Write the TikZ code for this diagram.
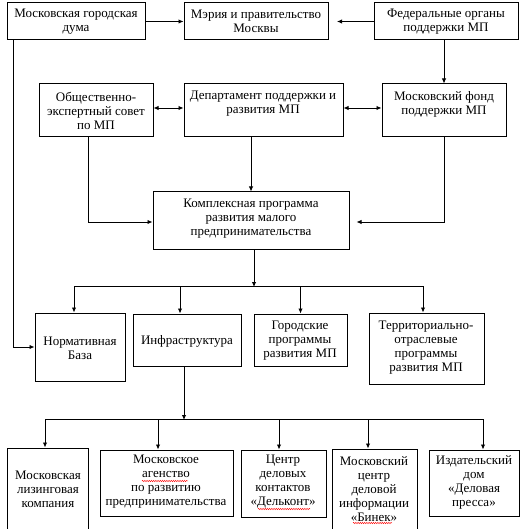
\documentclass[tikz,border=0pt]{standalone}
\usepackage{fontspec}
\setmainfont{Liberation Serif}
\usetikzlibrary{arrows.meta,decorations.pathmorphing}
\begin{document}
\begin{tikzpicture}[x=1pt,y=-1pt,
  box/.style={draw=black,line width=1pt,fill=white,inner sep=0pt},
  txt/.style={align=center,inner sep=0pt,font=\fontsize{13}{14}\selectfont},
  arr/.style={line width=0.9pt,-{Latex[length=5pt,width=4.5pt]}},
  biarr/.style={line width=0.9pt,{Latex[length=5pt,width=4.5pt]}-{Latex[length=5pt,width=4.5pt]}},
  ln/.style={line width=0.9pt},
  spell/.style={draw=red,line width=0.4pt,decorate,decoration={snake,amplitude=0.7pt,segment length=2.2pt}}]
\useasboundingbox (0,0) rectangle (532,529);
\clip (0,0) rectangle (532,529);
\fill[white] (0,0) rectangle (532,529);
% boxes
\node[box,minimum width=138pt,minimum height=37pt] (A) at (76,21.5) {};
\node[box,minimum width=144pt,minimum height=37pt] (B) at (256,21.5) {};
\node[box,minimum width=144pt,minimum height=37pt] (C) at (446,21.5) {};
\node[box,minimum width=114pt,minimum height=53pt] (D) at (96,110.5) {};
\node[box,minimum width=159pt,minimum height=53pt] (E) at (263.5,110.5) {};
\node[box,minimum width=124pt,minimum height=53pt] (F) at (444,110.5) {};
\node[box,minimum width=196pt,minimum height=57pt] (K) at (251,220.5) {};
\node[box,minimum width=90pt,minimum height=68pt] (N) at (80,347) {};
\node[box,minimum width=108pt,minimum height=52pt] (I) at (187,340) {};
\node[box,minimum width=93pt,minimum height=52pt] (G) at (300.5,340) {};
\node[box,minimum width=115pt,minimum height=71pt] (T) at (426.5,348.5) {};
\node[box,minimum width=81pt,minimum height=100pt] (L) at (47.5,498) {};
\node[box,minimum width=133pt,minimum height=66pt] (Ag) at (166.5,483) {};
\node[box,minimum width=85pt,minimum height=67pt] (Dk) at (283.5,483.5) {};
\node[box,minimum width=85pt,minimum height=100pt] (Bn) at (374.5,499) {};
\node[box,minimum width=90pt,minimum height=66pt] (Iz) at (474,483) {};
% texts
\node[txt] (At) at (76,22) {Московская городская\\дума};
\node[txt] (Bt) at (256,21) {Мэрия и правительство\\Москвы};
\node[txt] (Ct) at (446,22) {Федеральные органы\\поддержки МП};
\node[txt] (Dt) at (96,111) {Общественно-\\экспертный совет\\по МП};
\node[txt] (Et) at (263,104) {Департамент поддержки и\\развития МП};
\node[txt] (Ft) at (444,104) {Московский фонд\\поддержки МП};
\node[txt] (Kt) at (251,219) {Комплексная программа\\развития малого\\предпринимательства};
\node[txt] (Nt) at (80,348.5) {Нормативная\\База};
\node[txt] (It) at (187,341) {Инфраструктура};
\node[txt] (Gt) at (300,340.5) {Городские\\программы\\развития МП};
\node[txt] (Tt) at (426,347.5) {Территориально-\\отраслевые\\программы\\развития МП};
\node[txt] (Lt) at (48,489) {Московская\\лизинговая\\компания};
\node[txt] (Agt) at (166,482) {Московское\\агенство\\по развитию\\предпринимательства};
\node[txt] (Dkt) at (283,482) {Центр\\деловых\\контактов\\«Дельконт»};
\node[txt] (Bnt) at (374,489) {Московский\\центр\\деловой\\информации\\«Бинек»};
\node[txt] (Izt) at (474,482) {Издательский\\дом\\«Деловая\\пресса»};
% spell-check marks
\draw[spell] (142,481) -- (188,481);
\draw[spell] (258,509) -- (310,509);
\draw[spell] (353,523) -- (392,523);
% connectors top
\coordinate (cb) at (337,21.5);
\draw[arr] (A.east) -- (B.west);
\draw[arr] (C.west) -- (cb);
\draw[arr] (C.south -| F.north) -- (F.north);
\draw[biarr] ([yshift=2.5pt]D.east) -- ([yshift=2.5pt]E.west);
\draw[biarr] ([yshift=2.5pt]E.east) -- ([yshift=2.5pt]F.west);
\draw[arr] ([xshift=-8pt]D.south) |- ([yshift=-1.5pt]K.west);
\draw[arr] (E.south -| K.north) -- (K.north);
\draw[arr] (F.south) |- ([xshift=7pt,yshift=-1.5pt]K.east);
\draw[arr] ([xshift=-63pt]A.south) |- (N.west);
% bus 1
\coordinate (b1) at (254,286);
\draw[arr] (K.south -| b1) -- ([yshift=-1pt]b1);
\draw[ln] ([xshift=-6pt]N.north |- b1) -- ([xshift=-3.5pt]T.north |- b1);
\draw[arr] ([xshift=-6pt]N.north |- b1) -- ([xshift=-6pt]N.north);
\draw[arr] ([xshift=-7pt]I.north |- b1) -- ([xshift=-7pt]I.north);
\draw[arr] (G.north |- b1) -- (G.north);
\draw[arr] ([xshift=-3.5pt]T.north |- b1) -- ([xshift=-3.5pt]T.north);
% bus 2
\coordinate (b2) at (184,419);
\draw[arr] ([xshift=-3pt]I.south) -- ([yshift=-1pt]b2);
\draw[ln] ([xshift=-2.5pt]L.north |- b2) -- ([xshift=9pt]Iz.north |- b2);
\draw[arr] ([xshift=-2.5pt]L.north |- b2) -- ([xshift=-2.5pt]L.north);
\draw[arr] ([xshift=-8.5pt]Ag.north |- b2) -- ([xshift=-8.5pt]Ag.north);
\draw[arr] ([xshift=-4.5pt]Dk.north |- b2) -- ([xshift=-4.5pt]Dk.north);
\draw[arr] ([xshift=-6.5pt]Bn.north |- b2) -- ([xshift=-6.5pt]Bn.north);
\draw[arr] ([xshift=9pt]Iz.north |- b2) -- ([xshift=9pt]Iz.north);
\end{tikzpicture}
\end{document}
